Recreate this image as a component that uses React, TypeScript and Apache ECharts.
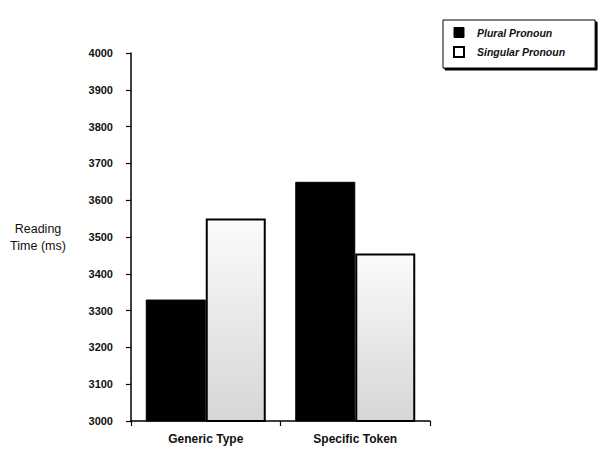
import React, { useEffect, useRef } from "react";
import * as echarts from "echarts";

const categories = ["Generic Type", "Specific Token"];
const pluralValues = [3330, 3650];
const singularValues = [3550, 3455];
const seriesNames = ["Plural Pronoun", "Singular Pronoun"];
const yMin = 3000;
const yMax = 4000;
const yInterval = 100;

export default function App() {
  const ref = useRef<HTMLDivElement>(null);
  useEffect(() => {
    if (!ref.current) return;
    const chart = echarts.init(ref.current, undefined, { renderer: "svg" });
    const font = "Liberation Sans, Arial, sans-serif";
    chart.setOption({
      animation: false,
      backgroundColor: "#ffffff",
      grid: { left: 131, right: 170, top: 53, bottom: 37, containLabel: false },
      legend: {
        orient: "vertical",
        left: 443,
        top: 20,
        itemWidth: 10,
        itemHeight: 10,
        itemGap: 8,
        padding: [7, 30, 10, 10],
        borderColor: "#000",
        borderWidth: 1,
        shadowColor: "#000",
        shadowOffsetX: 2,
        shadowOffsetY: 2,
        shadowBlur: 0,
        backgroundColor: "#fff",
        icon: "rect",
        data: [
          { name: seriesNames[0], itemStyle: { color: "#000", borderColor: "#000", borderWidth: 1 } },
          { name: seriesNames[1], itemStyle: { color: "#fff", borderColor: "#000", borderWidth: 2 } },
        ],
        textStyle: {
          fontFamily: font,
          fontStyle: "italic",
          fontWeight: "bold",
          fontSize: 10.5,
          color: "#111",
          padding: [0, 0, 0, 8],
        },
      },
      xAxis: {
        type: "category",
        data: categories,
        axisLine: { lineStyle: { color: "#000", width: 1.5 } },
        axisTick: { show: true, length: 5, lineStyle: { color: "#000", width: 1.2 } },
        axisLabel: {
          fontFamily: font,
          fontWeight: "bold",
          fontSize: 12,
          color: "#111",
          margin: 12,
        },
      },
      yAxis: {
        type: "value",
        min: yMin,
        max: yMax,
        interval: yInterval,
        splitLine: { show: false },
        axisLine: { show: true, lineStyle: { color: "#000", width: 1.5 } },
        axisTick: { show: true, length: 5, lineStyle: { color: "#000", width: 1.2 } },
        axisLabel: {
          fontFamily: font,
          fontWeight: "bold",
          fontSize: 11,
          color: "#111",
          margin: 18,
          formatter: (v: number) => String(v),
        },
      },
      graphic: [
        {
          type: "text",
          x: 38,
          y: 237,
          style: {
            text: "Reading\nTime (ms)",
            textAlign: "center",
            textVerticalAlign: "middle",
            font: `12.5px ${font}`,
            fill: "#111",
            lineHeight: 17,
          },
        },
      ],
      series: [
        {
          name: seriesNames[0],
          type: "bar",
          data: pluralValues,
          barWidth: 60,
          barGap: "0%",
          itemStyle: { color: "#000", borderColor: "#000", borderWidth: 1 },
        },
        {
          name: seriesNames[1],
          type: "bar",
          data: singularValues,
          barWidth: 60,
          barGap: "0%",
          itemStyle: {
            color: new echarts.graphic.LinearGradient(0, 0, 0, 1, [
              { offset: 0, color: "#fbfbfb" },
              { offset: 1, color: "#d6d6d6" },
            ]),
            borderColor: "#000",
            borderWidth: 2,
          },
        },
      ],
    });
    return () => chart.dispose();
  }, []);
  return <div ref={ref} style={{ width: 600, height: 458, position: "absolute", left: 0, top: 0 }} />;
}
